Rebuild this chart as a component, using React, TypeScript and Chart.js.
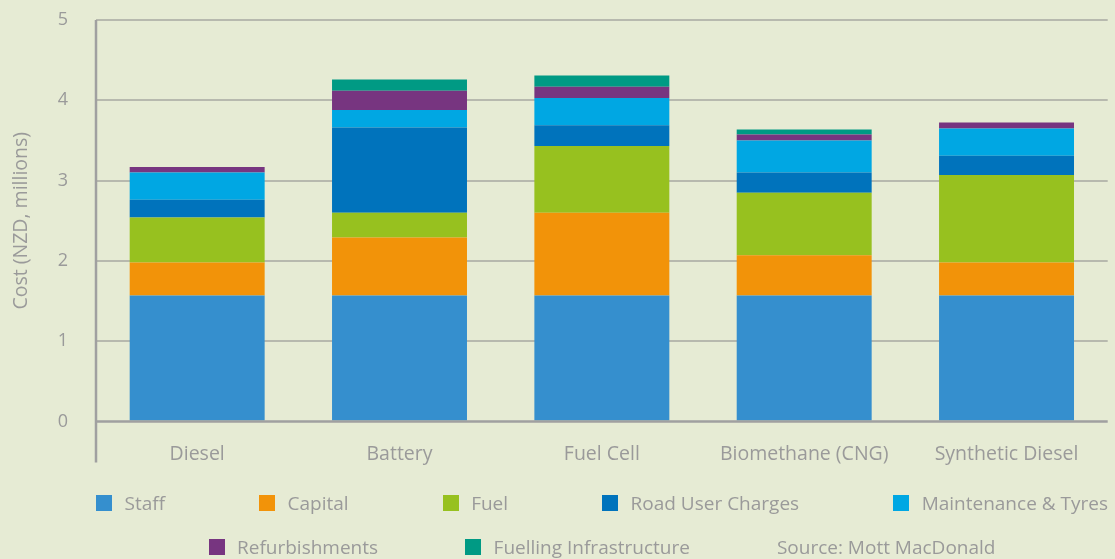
import React, { useEffect, useRef } from "react";
import { Chart, registerables } from "chart.js";

Chart.register(...registerables);

const categories = ["Diesel", "Battery", "Fuel Cell", "Biomethane (CNG)", "Synthetic Diesel"];
const staff = [1.57, 1.57, 1.57, 1.57, 1.57];
const capital = [0.41, 0.72, 1.03, 0.5, 0.41];
const fuel = [0.56, 0.31, 0.83, 0.78, 1.09];
const roadUserCharges = [0.22, 1.06, 0.26, 0.25, 0.24];
const maintenanceTyres = [0.34, 0.22, 0.34, 0.4, 0.34];
const refurbishments = [0.07, 0.24, 0.14, 0.075, 0.075];
const fuellingInfrastructure = [0, 0.14, 0.14, 0.06, 0];
const seriesNames = [
  "Staff",
  "Capital",
  "Fuel",
  "Road User Charges",
  "Maintenance & Tyres",
  "Refurbishments",
  "Fuelling Infrastructure",
];
const seriesColors = ["#358fce", "#f29309", "#97c11f", "#0073bc", "#00a7e3", "#773580", "#009a84"];
const sourceText = "Source: Mott MacDonald";
const yTitle = "Cost (NZD, millions)";
const yMin = 0;
const yMax = 5;
const yStep = 1;

const FONT = "'Open Sans', sans-serif";
const TEXT = "#9a9a9a";
const AXIS = "#a0a0a0";
const GRID = "#b7b9ae";
const BG = "#e6ebd4";

const axisPlugin = {
  id: "axisLines",
  afterDatasetsDraw(chart: any) {
    const { ctx, chartArea } = chart;
    const y0 = chart.scales.y.getPixelForValue(0);
    ctx.save();
    ctx.strokeStyle = AXIS;
    ctx.lineWidth = 2.5;
    ctx.beginPath();
    ctx.moveTo(chartArea.left, y0);
    ctx.lineTo(chartArea.right, y0);
    ctx.moveTo(chartArea.left, chartArea.top);
    ctx.lineTo(chartArea.left, chartArea.bottom + 41);
    ctx.stroke();
    ctx.restore();
  },
};

export default function App() {
  const ref = useRef<HTMLCanvasElement | null>(null);

  useEffect(() => {
    if (!ref.current) return;
    const values = [staff, capital, fuel, roadUserCharges, maintenanceTyres, refurbishments, fuellingInfrastructure];
    const chart = new Chart(ref.current, {
      type: "bar",
      data: {
        labels: categories,
        datasets: values.map((d, i) => ({
          label: seriesNames[i],
          data: d,
          backgroundColor: seriesColors[i],
          borderWidth: 0,
          barPercentage: 0.667,
          categoryPercentage: 1,
        })),
      },
      options: {
        animation: false,
        responsive: false,
        devicePixelRatio: 1,
        layout: { padding: { top: 20, right: 7.3, left: 0, bottom: 0 } },
        plugins: { legend: { display: false }, tooltip: { enabled: false } },
        scales: {
          x: {
            stacked: true,
            grid: { display: false },
            border: { display: false },
            ticks: { color: TEXT, font: { family: FONT, size: 19.5 }, padding: 13 },
            afterFit(scale: any) {
              scale.height = 137.5;
            },
          },
          y: {
            stacked: true,
            min: yMin,
            max: yMax,
            border: { display: false },
            grid: {
              drawTicks: false,
              color: (c: any) => (c.tick && c.tick.value === 0 ? "rgba(0,0,0,0)" : GRID),
              lineWidth: 2,
            },
            ticks: { stepSize: yStep, color: TEXT, font: { family: FONT, size: 18 }, padding: 28 },
            title: {
              display: true,
              text: yTitle,
              color: TEXT,
              font: { family: FONT, size: 19.5 },
              padding: { top: 10, bottom: 0 },
            },
            afterFit(scale: any) {
              scale.width = 96;
              scale.paddingTop = 0;
              scale.paddingBottom = 0;
            },
          },
        },
      },
      plugins: [axisPlugin],
    });
    return () => chart.destroy();
  }, []);

  const rows: { items: number[]; source: boolean; top: number; gap: number }[] = [
    { items: [0, 1, 2, 3, 4], source: false, top: 491, gap: 94 },
    { items: [5, 6], source: true, top: 535, gap: 87 },
  ];

  return (
    <div style={{ position: "absolute", left: 0, top: 0, width: 1115, height: 559, background: BG, overflow: "hidden" }}>
      <canvas ref={ref} width={1115} height={559} style={{ display: "block" }} />
      {rows.map((row, r) => (
        <div
          key={r}
          style={{
            position: "absolute",
            left: 96,
            width: 1012,
            top: row.top,
            height: 24,
            display: "flex",
            justifyContent: "center",
            alignItems: "center",
            gap: row.gap,
            fontFamily: FONT,
            fontSize: 19,
            color: TEXT,
            whiteSpace: "nowrap",
          }}
        >
          {row.items.map((i) => (
            <div key={i} style={{ display: "flex", alignItems: "center" }}>
              <span style={{ width: 16, height: 16, background: seriesColors[i], marginRight: 12.5, display: "inline-block" }} />
              <span>{seriesNames[i]}</span>
            </div>
          ))}
          {row.source && <div>{sourceText}</div>}
        </div>
      ))}
    </div>
  );
}
